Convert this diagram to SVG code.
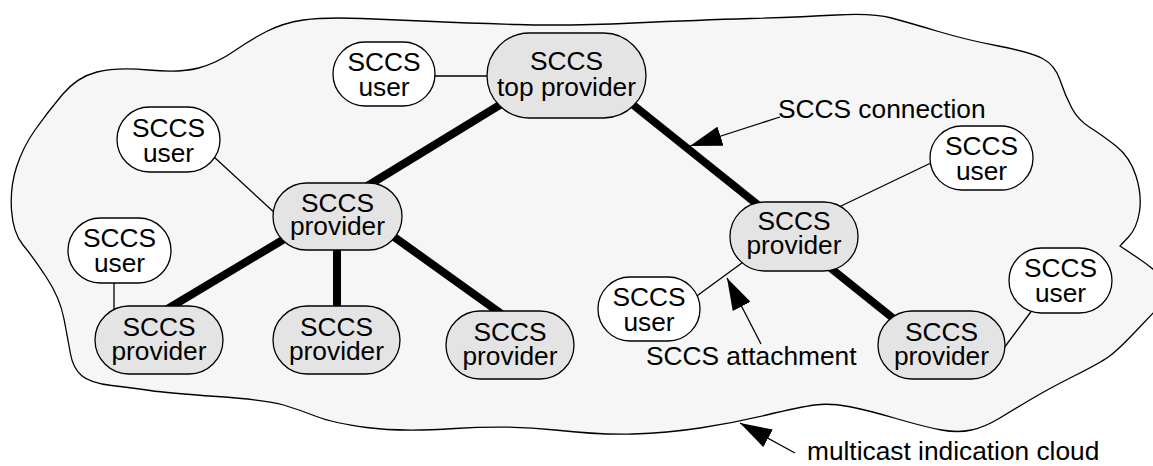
<svg xmlns="http://www.w3.org/2000/svg" width="1153" height="466" viewBox="0 0 1153 466">
  <style>
    .cloud { fill: #f6f6f6; stroke: #000; stroke-width: 1.3; stroke-linejoin: round; }
    .user { fill: #ffffff; stroke: #000; stroke-width: 1.3; }
    .prov { fill: #e4e4e4; stroke: #000; stroke-width: 1.3; }
    .label { font-family: "Liberation Sans", Arial, sans-serif; font-size: 26.3px; fill: #000; }
    .node text { text-anchor: middle; }
    .thick { stroke: #000; stroke-width: 8; fill: none; }
    .thin { stroke: #000; stroke-width: 1.3; fill: none; }
    .pointer { stroke: #000; stroke-width: 1.3; fill: none; marker-end: url(#head); }
  </style>
  <defs>
    <marker id="head" markerUnits="userSpaceOnUse" markerWidth="32" markerHeight="20" refX="32" refY="10" orient="auto">
      <path d="M0,0 L32,10 L0,20 z" fill="#000"/>
    </marker>
  </defs>

  <!-- multicast indication cloud -->
  <path id="cloud" class="cloud" d="M303.5,20 Q324,17 362,18.5 Q400,20 433.5,21.5 Q467,23 517,24.5 Q567,26 633.5,23 Q700,20 750,18.5 Q800,17 836.5,15 Q873,13 891.5,18 Q910,23 938.5,31.5 Q967,40 998.5,46 Q1030,52 1042.5,58.5 Q1055,65 1060,80 Q1065,95 1071.5,107.5 Q1078,120 1090,127.5 Q1102,135 1116,146 Q1130,157 1136,176 Q1142,195 1139.5,211.5 Q1137,228 1128.5,237 L1120,246 L1136.5,257 Q1153,268 1164,279 Q1175,290 1164,301.5 Q1153,313 1135.5,331.5 Q1118,350 1109,356.5 Q1100,363 1075,375.5 Q1050,388 1031.5,399 Q1013,410 999,418.5 Q985,427 971.5,430 Q958,433 941.5,430 Q925,427 896,418.5 Q867,410 848.5,406.5 Q830,403 815,405 Q800,407 766.5,415 Q733,423 700,428 Q667,433 633.5,434 Q600,435 555,430 Q510,425 455,428.5 Q400,432 366.5,427.5 Q333,423 316.5,416.5 Q300,410 283.5,405 Q267,400 217,396.5 Q167,393 150,390.5 Q133,388 111.5,385.5 Q90,383 81.5,375.5 Q73,368 70.5,354 Q68,340 64,319 Q60,298 46.5,277.5 Q33,257 23,245 Q13,233 11.5,210 Q10,187 16.5,167 Q23,147 35,130 Q47,113 62,95 Q77,77 97,72 Q117,67 148.5,70 Q180,73 198.5,68 Q217,63 233.5,51.5 Q250,40 266.5,31.5 Q283,23 303.5,20 Z"/>

  <!-- connections and attachments -->
  <g id="connectors">
    <line class="thick" x1="508" y1="100" x2="364" y2="188"/>
    <line class="thick" x1="627" y1="100" x2="763" y2="209"/>
    <line class="thick" x1="291" y1="235" x2="164" y2="311"/>
    <line class="thick" x1="337" y1="245" x2="337" y2="311"/>
    <line class="thick" x1="383" y1="229" x2="503" y2="315"/>
    <line class="thick" x1="823" y1="262" x2="899" y2="323"/>

    <line class="thin" x1="430" y1="76" x2="492" y2="76"/>
    <line class="thin" x1="213" y1="156" x2="277" y2="215"/>
    <line class="thin" x1="114" y1="280" x2="114" y2="314"/>
    <line class="thin" x1="694" y1="298" x2="746" y2="260"/>
    <line class="thin" x1="935" y1="161" x2="839" y2="207"/>
    <line class="thin" x1="1033" y1="309" x2="1004" y2="348"/>
  </g>

  <!-- nodes -->
  <g id="user-top" class="node">
    <rect class="user" x="333" y="42" width="102" height="64" rx="32"/>
    <text class="label" x="384" y="71">SCCS<tspan x="384" y="96">user</tspan></text>
  </g>
  <g id="provider-top" class="node">
    <rect class="prov" x="487" y="33" width="159" height="85" rx="42.5"/>
    <text class="label" x="566.5" y="70">SCCS<tspan x="566.5" y="96">top provider</tspan></text>
  </g>
  <g id="user-left-1" class="node">
    <rect class="user" x="117" y="107" width="103" height="65" rx="32.5"/>
    <text class="label" x="168.5" y="136.5">SCCS<tspan x="168.5" y="162">user</tspan></text>
  </g>
  <g id="provider-left" class="node">
    <rect class="prov" x="273" y="183" width="129" height="67" rx="33.5"/>
    <text class="label" x="337.5" y="212">SCCS<tspan x="337.5" y="235">provider</tspan></text>
  </g>
  <g id="user-left-2" class="node">
    <rect class="user" x="68" y="218" width="103" height="65" rx="32.5"/>
    <text class="label" x="119.5" y="247">SCCS<tspan x="119.5" y="272">user</tspan></text>
  </g>
  <g id="provider-bottom-1" class="node">
    <rect class="prov" x="95" y="306" width="128" height="68" rx="34"/>
    <text class="label" x="159" y="336">SCCS<tspan x="159" y="360">provider</tspan></text>
  </g>
  <g id="provider-bottom-2" class="node">
    <rect class="prov" x="273" y="306" width="127" height="68" rx="34"/>
    <text class="label" x="336.5" y="336">SCCS<tspan x="336.5" y="360">provider</tspan></text>
  </g>
  <g id="provider-bottom-3" class="node">
    <rect class="prov" x="446" y="311" width="128" height="68" rx="34"/>
    <text class="label" x="510" y="341">SCCS<tspan x="510" y="365">provider</tspan></text>
  </g>
  <g id="user-attached" class="node">
    <rect class="user" x="598" y="277" width="102" height="64" rx="32"/>
    <text class="label" x="649" y="306">SCCS<tspan x="649" y="331">user</tspan></text>
  </g>
  <g id="provider-right" class="node">
    <rect class="prov" x="730" y="202" width="128" height="69" rx="34.5"/>
    <text class="label" x="794" y="230">SCCS<tspan x="794" y="254">provider</tspan></text>
  </g>
  <g id="user-right-1" class="node">
    <rect class="user" x="930" y="126" width="103" height="64" rx="32"/>
    <text class="label" x="981.5" y="155">SCCS<tspan x="981.5" y="180">user</tspan></text>
  </g>
  <g id="provider-bottom-4" class="node">
    <rect class="prov" x="878" y="311" width="127" height="68" rx="34"/>
    <text class="label" x="941.5" y="341">SCCS<tspan x="941.5" y="365">provider</tspan></text>
  </g>
  <g id="user-right-2" class="node">
    <rect class="user" x="1009" y="248" width="103" height="65" rx="32.5"/>
    <text class="label" x="1060.5" y="277">SCCS<tspan x="1060.5" y="302">user</tspan></text>
  </g>

  <!-- callouts -->
  <g id="callouts">
    <line class="pointer" x1="780" y1="117" x2="690" y2="146"/>
    <text class="label" x="778" y="118">SCCS connection</text>
    <line class="pointer" x1="761" y1="344" x2="727" y2="278"/>
    <text class="label" x="646" y="365">SCCS attachment</text>
    <line class="pointer" x1="795" y1="453" x2="740" y2="423"/>
    <text class="label" x="807" y="460">multicast indication cloud</text>
  </g>
</svg>
